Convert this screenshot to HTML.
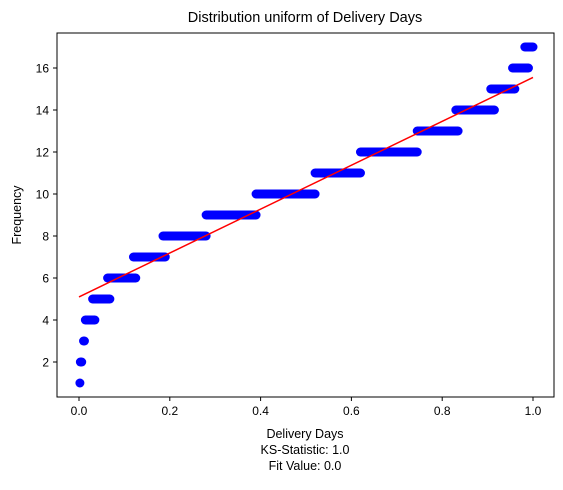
<!DOCTYPE html>
<html><head><meta charset="utf-8"><style>
body{margin:0;background:#fff;}
svg text{font-family:"Liberation Sans",sans-serif;fill:#000;}
</style></head><body>
<svg id="chart" width="563" height="485" xmlns="http://www.w3.org/2000/svg">
<rect width="563" height="485" fill="#fff"/>
<g id="plot"></g>
<rect x="57" y="33" width="497" height="364" fill="none" stroke="#000" stroke-width="1"/>
<text x="305" y="22" font-size="14.5" text-anchor="middle">Distribution uniform of Delivery Days</text>
<text x="305" y="438" font-size="12.5" text-anchor="middle">Delivery Days</text>
<text x="305" y="454" font-size="12.5" text-anchor="middle">KS-Statistic: 1.0</text>
<text x="305" y="470" font-size="12.5" text-anchor="middle">Fit Value: 0.0</text>
<text x="0" y="0" font-size="12.5" text-anchor="middle" transform="translate(21,215) rotate(-90)">Frequency</text>
</svg>
<script>
const levels = [1,2,3,4,5,6,7,8,9,10,11,12,13,14,15,16,17];
const xStart = [0.002,0.003,0.01,0.014,0.03,0.063,0.12,0.185,0.28,0.39,0.52,0.62,0.745,0.83,0.907,0.955,0.982];
const xEnd   = [0.002,0.006,0.012,0.035,0.068,0.125,0.19,0.28,0.39,0.52,0.62,0.745,0.835,0.915,0.96,0.99,1.0];
const fitIntercept = [5.1];
const fitSlope = [10.45];
const xTicks = [0,0.2,0.4,0.6,0.8,1.0];
const xTickLabels = ["0.0","0.2","0.4","0.6","0.8","1.0"];
const yTicks = [2,4,6,8,10,12,14,16];

const X = v => 79 + v*454;
const Y = v => 404 - v*21;
const NS = "http://www.w3.org/2000/svg";
const g = document.getElementById('plot');
function mk(tag, attrs){const e=document.createElementNS(NS,tag);for(const k in attrs)e.setAttribute(k,attrs[k]);g.appendChild(e);return e;}

xTicks.forEach((t,i)=>{
  const l=mk('line',{x1:X(t),x2:X(t),y1:397,y2:401,stroke:'#000'});
  
  
  const tx=mk('text',{x:X(t),y:415,'font-size':12,'text-anchor':'middle'});
  tx.textContent=xTickLabels[i];
  
  
});
yTicks.forEach(t=>{
  const l=mk('line',{x1:53,x2:57,y1:Y(t),y2:Y(t),stroke:'#000'});
  
  
  const tx=mk('text',{x:49,y:Y(t)+4.5,'font-size':12,'text-anchor':'end'});
  tx.textContent=String(t);
  
  
});
levels.forEach((lv,i)=>{
  const l=mk('line',{x1:X(xStart[i]),x2:X(xEnd[i]),y1:Y(lv),y2:Y(lv),stroke:'#0000ff','stroke-width':9,'stroke-linecap':'round'});
  
  
});
const fit=mk('line',{x1:X(0),y1:Y(fitIntercept[0]),x2:X(1),y2:Y(fitIntercept[0]+fitSlope[0]),stroke:'#ff0000','stroke-width':1.5});


</script>
</body></html>
